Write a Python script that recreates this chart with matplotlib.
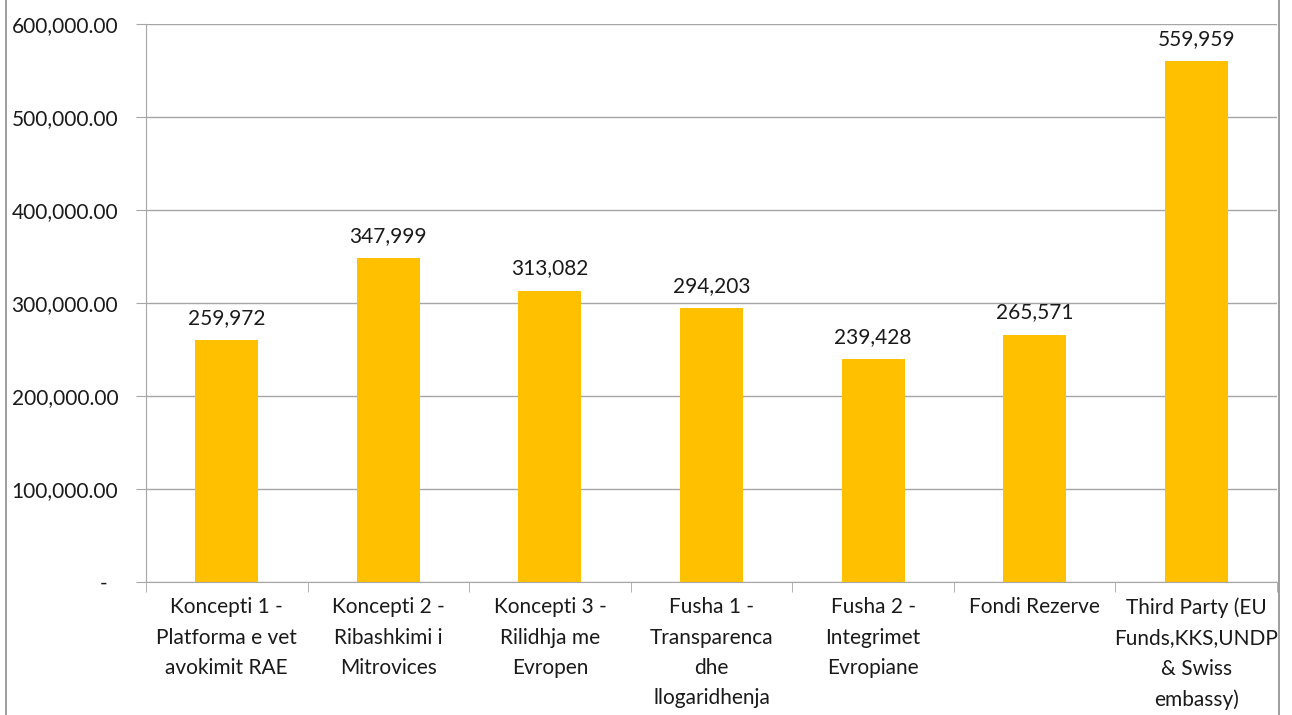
import matplotlib
matplotlib.use("Agg")
import matplotlib.pyplot as plt
from matplotlib.lines import Line2D
from matplotlib.ticker import FuncFormatter, MultipleLocator

matplotlib.rcParams["font.family"] = ["Lato", "DejaVu Sans"]

CATEGORIES = [
    "Koncepti 1 -\nPlatforma e vet\navokimit RAE",
    "Koncepti 2 -\nRibashkimi i\nMitrovices",
    "Koncepti 3 -\nRilidhja me\nEvropen",
    "Fusha 1 -\nTransparenca\ndhe\nllogaridhenja",
    "Fusha 2 -\nIntegrimet\nEvropiane",
    "Fondi Rezerve",
    "Third Party (EU\nFunds,KKS,UNDP\n& Swiss\nembassy)",
]
VALUES = [259972, 347999, 313082, 294203, 239428, 265571, 559959]

BAR_COLOR = "#FFC000"
GRID_COLOR = "#A6A6A6"
TEXT_COLOR = "#1a1a1a"
FS = 15

W, H = 1292, 715
fig = plt.figure(figsize=(W / 100, H / 100), dpi=100)
left, right, top, bottom = 146, 1277, 24, 582
ax = fig.add_axes([left / W, 1 - bottom / H, (right - left) / W, (bottom - top) / H])

x = list(range(len(VALUES)))
ax.bar(x, VALUES, width=0.39, color=BAR_COLOR, zorder=2)

for xi, v in zip(x, VALUES):
    ax.annotate(f"{v:,}", (xi, v), xytext=(0, 9), textcoords="offset points",
                ha="center", va="bottom", fontsize=FS, color=TEXT_COLOR)

ax.set_xlim(-0.5, len(VALUES) - 0.5)
ax.set_ylim(0, 600000)
ax.yaxis.set_major_locator(MultipleLocator(100000))


def fmt(v, pos):
    if v == 0:
        return "-  "
    return f"{v:,.2f}"


ax.yaxis.set_major_formatter(FuncFormatter(fmt))
ax.grid(axis="y", color=GRID_COLOR, linewidth=1.0, zorder=0)
ax.set_axisbelow(True)

ax.set_xticks(x)
ax.set_xticklabels(CATEGORIES, fontsize=FS, color=TEXT_COLOR, linespacing=1.65)
ax.tick_params(axis="x", length=0, pad=11)
ax.set_xticks([i - 0.5 for i in range(len(VALUES) + 1)], minor=True)
ax.tick_params(axis="x", which="minor", length=7, color=GRID_COLOR, direction="out")
ax.tick_params(axis="y", length=7, color=GRID_COLOR, labelsize=FS,
               labelcolor=TEXT_COLOR, pad=13)

for side in ["top", "right"]:
    ax.spines[side].set_visible(False)
ax.spines["left"].set_color(GRID_COLOR)
ax.spines["bottom"].set_color(GRID_COLOR)

# chart frame edges
fig.add_artist(Line2D([6 / W, 6 / W], [0, 1], color="#8C8C8C", linewidth=1.2,
                      transform=fig.transFigure))
fig.add_artist(Line2D([1279 / W, 1279 / W], [0, 1], color="#8C8C8C", linewidth=1.2,
                      transform=fig.transFigure))

fig.savefig("out.png", dpi=100)
